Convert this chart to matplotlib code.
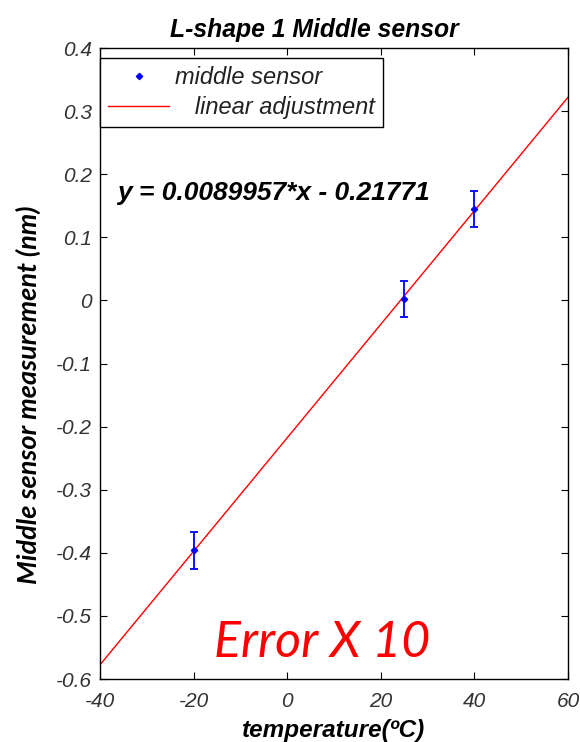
import numpy as np
import matplotlib.pyplot as plt
from matplotlib.lines import Line2D

# measured points (temperature in C, middle sensor reading in nm)
temps = [-20, 25, 40]
readings = [-0.396, 0.002, 0.145]
errors = [0.029, 0.028, 0.029]

# fitted line y = a*x + b
slope = 0.0089957
offset = -0.21771
fit_x = [-40, 60]

xticks = [-40, -20, 0, 20, 40, 60]
yticks = [-0.6, -0.5, -0.4, -0.3, -0.2, -0.1, 0, 0.1, 0.2, 0.3, 0.4]

plt.rcParams['font.family'] = ['Liberation Sans', 'DejaVu Sans']
plt.rcParams['axes.unicode_minus'] = False

fig = plt.figure(figsize=(5.8, 7.42), dpi=100)
ax = fig.add_axes([0.1724, 0.0849, 0.807, 0.8504])

fit_y = [slope * x + offset for x in fit_x]
ax.plot(fit_x, fit_y, color='red', lw=1)
ax.errorbar(temps, readings, yerr=errors, fmt='D', color='blue', ms=3.2,
            elinewidth=1.3, capsize=2.6, capthick=1.3, ls='none')

ax.set_xlim(-40, 60)
ax.set_ylim(-0.6, 0.4)
ax.set_xticks(xticks)
ax.set_xticklabels([str(v) for v in xticks])
ax.set_yticks(yticks)
ax.set_yticklabels([f'{v:g}' for v in yticks])
ax.tick_params(direction='in', top=True, right=True, length=5,
               labelsize=15, labelcolor='#333333')
ax.tick_params(axis='x', pad=9)
ax.tick_params(axis='y', pad=6)
for lab in ax.get_xticklabels() + ax.get_yticklabels():
    lab.set_style('italic')
for s in ax.spines.values():
    s.set_linewidth(1)

title = ax.set_title('L-shape 1 Middle sensor', fontsize=17.8, fontweight='bold',
                     style='italic', pad=8)
title.set_x(0.459)
ax.set_xlabel('temperature(ºC)', fontsize=17.5, fontweight='bold',
              style='italic', labelpad=6)
fig.text(28 / 580, 1 - 395 / 742, 'Middle sensor measurement (nm)',
         rotation=90, ha='center', va='center', fontsize=19.5,
         fontweight='bold', style='italic', family=['Lato', 'DejaVu Sans'])

handles = [Line2D([], [], marker='D', color='blue', ms=3.2, ls='none'),
           Line2D([], [], color='red', lw=1)]
labels = ['middle sensor', '   linear adjustment']
leg = ax.legend(handles, labels, loc='upper left',
                bbox_to_anchor=(0.0, 0.9842), fancybox=False, framealpha=1,
                edgecolor='black', borderaxespad=0,
                prop={'style': 'italic', 'size': 17},
                handlelength=2.55, handletextpad=0.25, borderpad=0.36,
                labelspacing=0.27)
leg.get_frame().set_linewidth(1)
for t in leg.get_texts():
    t.set_color('#222222')

ax.text(-36.3, 0.17, 'y = 0.0089957*x - 0.21771', fontsize=19,
        fontweight='bold', style='italic', va='center')
ax.text(7.4, -0.543, 'Error X 10', color='red', fontsize=36, style='italic',
        family=['Lato', 'DejaVu Sans'], ha='center', va='center')

fig.savefig('out.png', dpi=100)
